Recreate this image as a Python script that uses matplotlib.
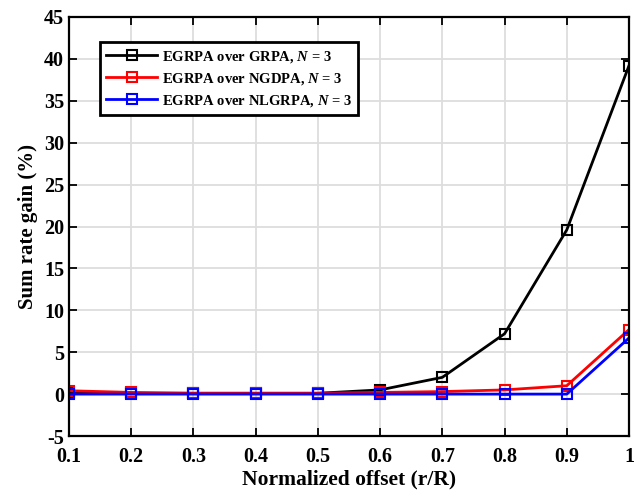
import numpy as np
import matplotlib
matplotlib.use('Agg')
import matplotlib.pyplot as plt

plt.rcParams['font.family'] = ['Liberation Serif', 'DejaVu Serif']
plt.rcParams['font.weight'] = 'bold'
plt.rcParams['mathtext.fontset'] = 'custom'
plt.rcParams['mathtext.it'] = 'Liberation Serif:italic:bold'
plt.rcParams['mathtext.rm'] = 'Liberation Serif:bold'
plt.rcParams['axes.unicode_minus'] = False

offset = [0.1, 0.2, 0.3, 0.4, 0.5, 0.6, 0.7, 0.8, 0.9, 1.0]
gain_grpa = [0.1, 0.1, 0.1, 0.1, 0.1, 0.5, 2.0, 7.2, 19.6, 39.2]
gain_ngdpa = [0.4, 0.2, 0.1, 0.1, 0.1, 0.2, 0.3, 0.5, 1.0, 7.7]
gain_nlgrpa = [0.0, 0.0, 0.0, 0.0, 0.0, 0.0, 0.0, 0.0, 0.0, 6.7]

fig = plt.figure(figsize=(6.44, 4.92), dpi=100)
ax = fig.add_axes([69 / 644, 1 - 436 / 492, 560 / 644, 419 / 492])

mk = dict(marker='s', markersize=6.5, markerfacecolor='none', markeredgewidth=1.5, linewidth=2.0)
ax.plot(offset, gain_grpa, color='black', label=r'EGRPA over GRPA, $N$ = 3', **mk)
ax.plot(offset, gain_ngdpa, color='red', label=r'EGRPA over NGDPA, $N$ = 3', **mk)
ax.plot(offset, gain_nlgrpa, color='blue', label=r'EGRPA over NLGRPA, $N$ = 3', **mk)

ax.set_xlim(0.1, 1.0)
ax.set_ylim(-5, 45)
ax.set_xticks(offset)
ax.set_xticklabels(['0.1', '0.2', '0.3', '0.4', '0.5', '0.6', '0.7', '0.8', '0.9', '1'])
ax.set_yticks(np.arange(-5, 46, 5))
ax.grid(True, color='#dddddd', linewidth=1.3)
ax.set_axisbelow(True)
ax.tick_params(direction='in', top=True, right=True, length=6, width=1.3, labelsize=14.5)
ax.tick_params(axis='x', pad=8)
for s in ax.spines.values():
    s.set_linewidth(1.6)

ax.set_xlabel('Normalized offset (r/R)', fontsize=15.5, fontweight='bold', labelpad=2)
ax.set_ylabel('Sum rate gain (%)', fontsize=15, fontweight='bold', labelpad=4)

leg = ax.legend(loc='upper left', bbox_to_anchor=(0.055, 0.94), fontsize=10.5,
                fancybox=False, edgecolor='black', framealpha=1,
                handlelength=3.5, handletextpad=0.3, borderpad=0.45, labelspacing=0.42,
                borderaxespad=0)
leg.get_frame().set_linewidth(2.0)

fig.savefig('out.png', dpi=100)
